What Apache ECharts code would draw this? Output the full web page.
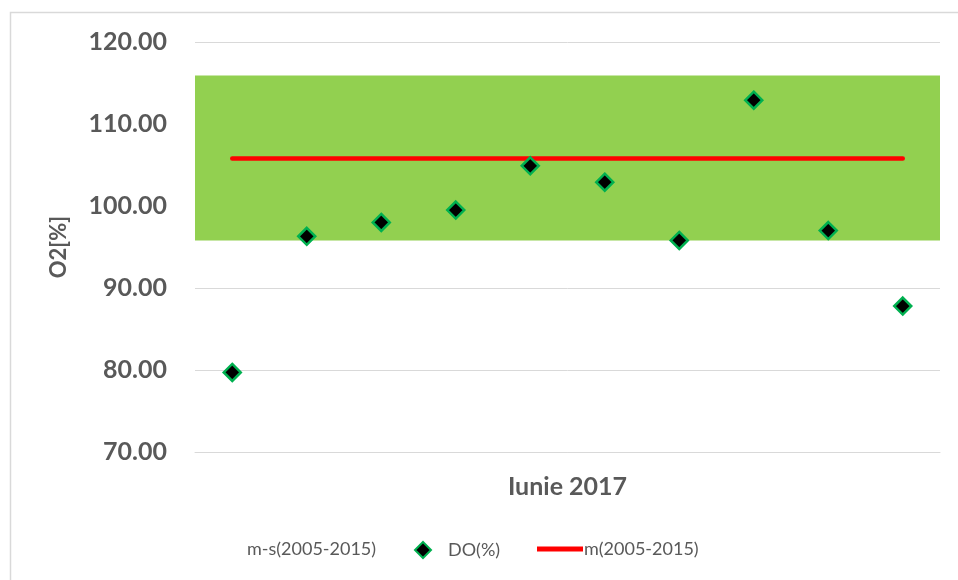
<!DOCTYPE html>
<html>
<head>
<meta charset="utf-8">
<script src="https://cdn.jsdelivr.net/npm/echarts@6/dist/echarts.min.js"></script>
<style>html,body{margin:0;padding:0;background:#fff}#c{width:958px;height:580px}</style>
</head>
<body>
<div id="c"></div>
<script>
var categories = ['1','2','3','4','5','6','7','8','9','10'];
var doValues = [79.7, 96.3, 98.0, 99.5, 104.9, 102.9, 95.8, 112.9, 97.0, 87.8];
var meanValues = [105.8, 105.8, 105.8, 105.8, 105.8, 105.8, 105.8, 105.8, 105.8, 105.8];
var bandLow = 95.8;   // m-s
var bandHigh = 115.9; // m+s
var yTicks = [70, 80, 90, 100, 110, 120];

var FONT = 'Lato';
var chart = echarts.init(document.getElementById('c'), null, {renderer: 'canvas'});
chart.setOption({
  animation: false,
  backgroundColor: '#fff',
  graphic: [{
    type: 'rect', left: 8, top: 10,
    shape: {width: 1000, height: 700},
    style: {fill: 'none', stroke: '#d9d9d9', lineWidth: 1.5}, silent: true, z: -1
  }],
  grid: {left: 195, right: 18, top: 42, bottom: 128},
  legend: [
    {left: 242, top: 535, itemWidth: 0, itemGap: 0, icon: 'rect',
     data: [{name: 'm-s(2005-2015)', itemStyle: {opacity: 0}}],
     textStyle: {fontFamily: FONT, fontSize: 18, color: '#595959', padding: [0,0,0,-5]}},
    {left: 409, top: 536, itemWidth: 16, itemHeight: 16, itemGap: 8,
     data: [{name: 'DO(%)', icon: 'diamond'}],
     textStyle: {fontFamily: FONT, fontSize: 18, color: '#595959', padding: [0,0,0,12]}},
    {left: 532, top: 535, itemWidth: 46, itemHeight: 5,
     data: [{name: 'm(2005-2015)', icon: 'rect'}],
     textStyle: {fontFamily: FONT, fontSize: 18, color: '#595959', padding: [0,0,0,-4]}}
  ],
  xAxis: {
    type: 'category', data: categories, boundaryGap: true,
    name: 'Iunie 2017', nameLocation: 'middle', nameGap: 22,
    nameTextStyle: {fontFamily: FONT, fontSize: 25, fontWeight: 'bold', color: '#595959'},
    axisLine: {show: true, lineStyle: {color: '#d9d9d9', width: 1}},
    axisTick: {show: false}, axisLabel: {show: false}, splitLine: {show: false}
  },
  yAxis: {
    type: 'value', min: yTicks[0], max: yTicks[yTicks.length-1], interval: 10,
    name: 'O2[%]', nameLocation: 'middle', nameGap: 125, nameRotate: 90,
    nameTextStyle: {fontFamily: FONT, fontSize: 22, fontWeight: 'bold', color: '#595959'},
    axisLine: {show: false}, axisTick: {show: false},
    axisLabel: {margin: 28, fontFamily: FONT, fontSize: 25, fontWeight: 'bold', color: '#595959',
      formatter: function(v){ return v.toFixed(2); }},
    splitLine: {show: true, lineStyle: {color: '#d9d9d9', width: 1}}
  },
  series: [
    {
      name: 'm-s(2005-2015)', type: 'line', data: [], silent: true,
      itemStyle: {color: 'rgba(0,0,0,0)'},
      markArea: {silent: true, itemStyle: {color: '#92D050', opacity: 1},
        data: [[{yAxis: bandLow}, {yAxis: bandHigh}]]},
      z: 1
    },
    {
      name: 'm(2005-2015)', type: 'line', data: meanValues, symbol: 'none',
      lineStyle: {color: '#FF0000', width: 4.5, cap: 'round'},
      itemStyle: {color: '#FF0000'}, z: 3
    },
    {
      name: 'DO(%)', type: 'scatter', data: doValues, symbol: 'diamond', symbolSize: 17,
      itemStyle: {color: '#000000', borderColor: '#00B050', borderWidth: 2.5, opacity: 1}, z: 4
    }
  ]
});
</script>
</body>
</html>
